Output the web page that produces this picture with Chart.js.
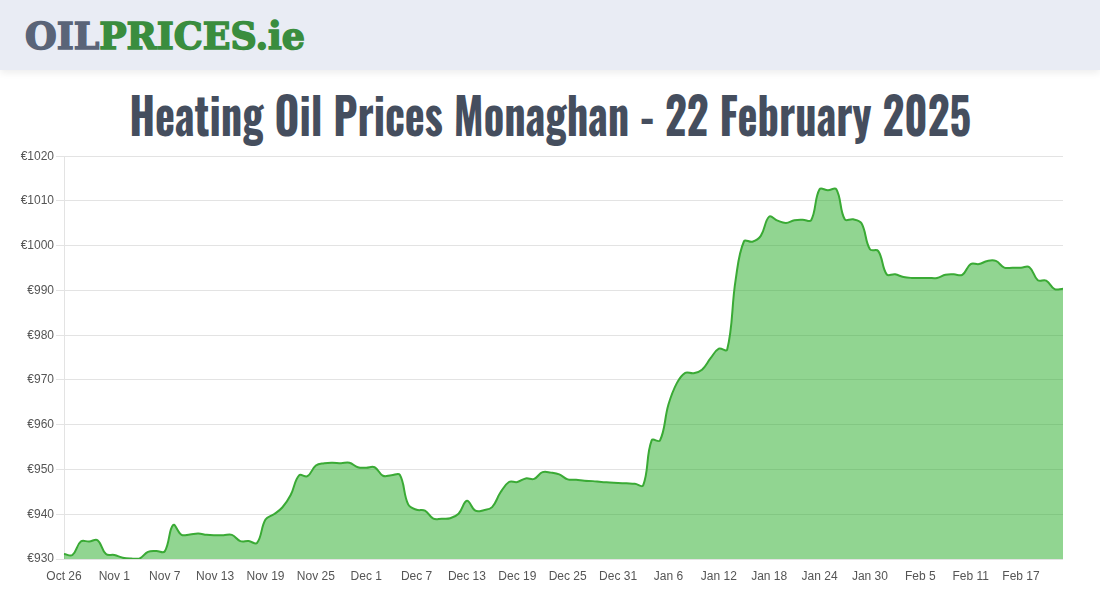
<!DOCTYPE html>
<html>
<head>
<meta charset="utf-8">
<script src="https://cdn.jsdelivr.net/npm/chart.js@4.4.1/dist/chart.umd.min.js"></script>
<style>
html,body{margin:0;padding:0;background:#fff;width:1100px;height:600px;overflow:hidden;}
#header{position:absolute;left:0;top:0;width:1100px;height:70px;background:#e9ecf4;box-shadow:0 3px 7px rgba(0,0,0,0.07);}
#logo{position:absolute;left:25px;top:14px;font-family:"DejaVu Serif",serif;font-weight:bold;font-size:38px;line-height:44px;white-space:nowrap;transform-origin:0 50%;}
#logo .a{color:#5a6478;-webkit-text-stroke:1.6px #5a6478;}
#logo .b{color:#3a8d3e;-webkit-text-stroke:1.6px #3a8d3e;}
#title{position:absolute;left:0;top:86px;width:1100px;text-align:center;}
#title span{display:inline-block;font-family:"Oswald","Liberation Sans Narrow","DejaVu Sans Condensed","Liberation Sans",sans-serif;font-weight:bold;font-size:51px;line-height:54px;color:#454e5e;white-space:nowrap;transform-origin:50% 50%;}
#wrap{position:absolute;left:0;top:147px;width:1073px;height:442px;}
</style>
</head>
<body>
<div id="header"><div id="logo"><span class="a">OIL</span><span class="b">PRICES.ie</span></div></div>
<div id="title"><span id="tt">Heating Oil Prices Monaghan - 22 February 2025</span></div>
<div id="wrap"><canvas id="c"></canvas></div>
<script>
// Date categories (Oct 26 2024 – Feb 22 2025, daily)
const monthSpans = [["Oct", 26, 31], ["Nov", 1, 30], ["Dec", 1, 31], ["Jan", 1, 31], ["Feb", 1, 22]];
const dates = [];
monthSpans.forEach(([m, a, b]) => { for (let d = a; d <= b; d++) dates.push(m + " " + d); });

// Price series (EUR)
const pricesOctNov = [931.1, 930.9, 933.9, 933.9, 934.2, 931.1, 930.9, 930.3, 930.1, 930.1,
  931.6, 931.8, 931.7, 937.6, 935.4, 935.5, 935.7, 935.4, 935.3, 935.3,
  935.4, 934.0, 934.0, 933.6, 938.8, 940.0, 941.5, 944.3, 948.7, 948.5,
  950.9, 951.4, 951.5, 951.4, 951.5, 950.5, 950.4, 950.5, 948.6, 948.7];
const pricesDec = [948.8, 942.2, 941.0, 940.8, 939.0, 939.0, 939.1, 940.1, 943.0, 940.8,
  940.9, 941.6, 944.9, 947.2, 947.2, 948.0, 947.9, 949.4, 949.3, 948.9,
  947.8, 947.7, 947.5, 947.4, 947.2, 947.1, 947.0, 946.9, 946.8, 946.5];
const pricesJan = [956.5, 956.5, 964.5, 969.3, 971.6, 971.5, 972.3, 974.8, 977.0, 976.8,
  992.3, 1001.0, 1000.9, 1002.2, 1006.5, 1005.6, 1005.1, 1005.7, 1005.8, 1005.7,
  1012.6, 1012.4, 1012.6, 1005.9, 1005.9, 1005.0, 999.2, 998.8, 993.6, 993.6];
const pricesFeb = [993.0, 992.8, 992.8, 992.8, 992.8, 993.5, 993.6, 993.5, 995.9, 995.9,
  996.6, 996.6, 995.1, 995.1, 995.1, 995.2, 992.3, 992.2, 990.3, 990.4];
const prices = [...pricesOctNov, ...pricesDec, ...pricesJan, ...pricesFeb];

const yMin = 930, yMax = 1020, yStep = 10;
const labelEvery = 6;

// fit header texts
function fitWidth(el, w) {
  const r = el.getBoundingClientRect();
  el.style.transform = "scaleX(" + (w / r.width) + ")";
}
fitWidth(document.getElementById("logo"), 280);
fitWidth(document.getElementById("tt"), 842);

const chart = new Chart(document.getElementById("c"), {
  type: "line",
  data: {
    labels: dates,
    datasets: [{
      data: prices,
      borderColor: "#3aaa35",
      borderWidth: 2,
      backgroundColor: "rgba(36,172,36,0.5)",
      fill: true,
      tension: 0.4,
      pointRadius: 0,
      pointHoverRadius: 0
    }]
  },
  options: {
    responsive: true,
    maintainAspectRatio: false,
    animation: false,
    layout: { padding: 0 },
    plugins: { legend: { display: false }, tooltip: { enabled: false }, title: { display: false } },
    scales: {
      x: {
        grid: { display: false, drawTicks: false },
        border: { display: false },
        ticks: {
          autoSkip: false, maxRotation: 0, padding: 10,
          color: "#555", font: { family: "'Liberation Sans', Arial, sans-serif", size: 12 },
          callback: (v, i) => (i % labelEvery === 0 ? dates[i] : "")
        },
        afterFit: (s) => { s.height = 30; }
      },
      y: {
        min: yMin, max: yMax,
        grid: { color: "#e3e3e3", tickLength: 8 },
        border: { display: true, color: "#e3e3e3" },
        ticks: {
          stepSize: yStep, padding: 2,
          color: "#555", font: { family: "'Liberation Sans', Arial, sans-serif", size: 12 },
          callback: (v) => "€" + v
        },
        afterFit: (s) => { s.width = 64; }
      }
    }
  }
});
</script>
</body>
</html>
